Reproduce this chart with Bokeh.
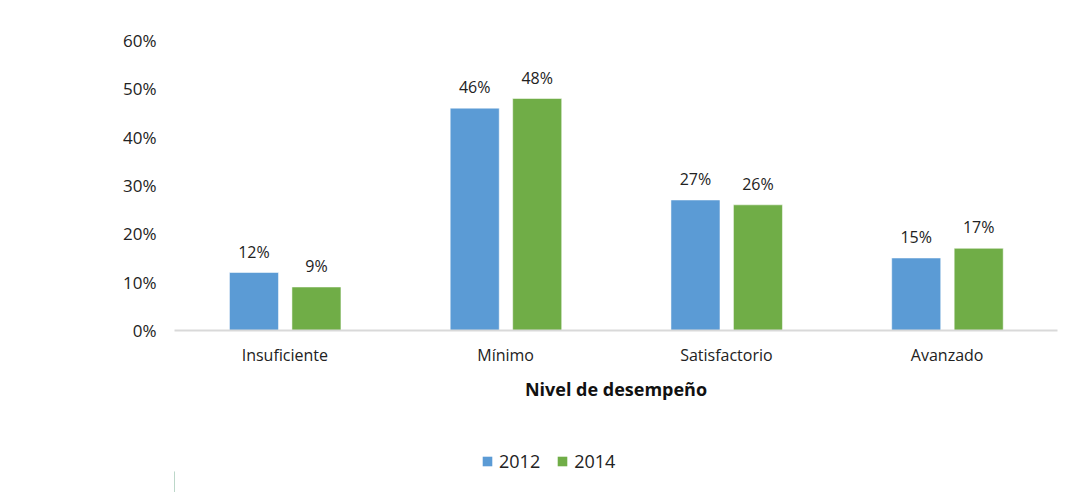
from bokeh.plotting import figure
from bokeh.layouts import column
from bokeh.models import (ColumnDataSource, FactorRange, Legend, LegendItem, NumeralTickFormatter,
                          FixedTicker, Range1d)
from bokeh.transform import dodge
from bokeh.core.properties import value
from bokeh.embed import file_html
from bokeh.resources import INLINE

categories = ["Insuficiente", "Mínimo", "Satisfactorio", "Avanzado"]
series_names = ["2012", "2014"]
values_2012 = [0.12, 0.46, 0.27, 0.15]
values_2014 = [0.09, 0.48, 0.26, 0.17]
y_ticks = [0.0, 0.1, 0.2, 0.3, 0.4, 0.5, 0.6]
x_title = "Nivel de desempeño"

BLUE = "#5b9bd5"
GREEN = "#70ad47"
FONT = "Open Sans"

src = ColumnDataSource(dict(
    cat=categories,
    v12=values_2012,
    v14=values_2014,
    l12=[f"{round(v*100)}%" for v in values_2012],
    l14=[f"{round(v*100)}%" for v in values_2014],
))

p = figure(
    x_range=FactorRange(*categories, range_padding=0.0),
    y_range=(0, 0.6),
    width=1069, height=450,
    output_backend="svg", toolbar_location=None,
    min_border_left=174, min_border_right=12, min_border_top=40, min_border_bottom=120,
)

p.vbar(x=dodge("cat", -0.14, range=p.x_range), top="v12", width=0.222, source=src,
       fill_color=BLUE, line_color="white", line_width=0.5)
p.vbar(x=dodge("cat", 0.143, range=p.x_range), top="v14", width=0.222, source=src,
       fill_color=GREEN, line_color="white", line_width=0.5)

p.text(x=dodge("cat", -0.14, range=p.x_range), y="v12", text="l12", source=src,
       text_align="center", text_baseline="bottom", y_offset=-10,
       text_font=value(FONT), text_font_size="16px", text_color="#222222")
p.text(x=dodge("cat", 0.143, range=p.x_range), y="v14", text="l14", source=src,
       text_align="center", text_baseline="bottom", y_offset=-10,
       text_font=value(FONT), text_font_size="16px", text_color="#222222")

p.xgrid.visible = False
p.ygrid.visible = False
p.outline_line_color = None

p.yaxis.ticker = FixedTicker(ticks=y_ticks)
p.yaxis.formatter = NumeralTickFormatter(format="0%")
p.yaxis.axis_line_color = None
p.yaxis.major_tick_line_color = None
p.yaxis.minor_tick_line_color = None
p.yaxis.major_label_standoff = 12
p.yaxis.major_label_text_font = FONT
p.yaxis.major_label_text_font_size = "17px"
p.yaxis.major_label_text_color = "#222222"

xa = p.xaxis[0]
xa.axis_line_color = "#d9d9d9"
xa.axis_line_width = 2
xa.major_tick_line_color = None
xa.minor_tick_line_color = None
xa.major_label_standoff = 7
xa.major_label_text_font = FONT
xa.major_label_text_font_size = "16px"
xa.major_label_text_color = "#222222"
xa.axis_label = x_title
xa.axis_label_text_font = FONT
xa.axis_label_text_font_size = "18px"
xa.axis_label_text_font_style = "bold"
xa.axis_label_text_color = "#111111"
xa.axis_label_standoff = 8

# legend strip under the chart
lg = figure(width=1069, height=42, output_backend="svg", toolbar_location=None,
            x_range=Range1d(0, 1), y_range=Range1d(0, 1),
            min_border=0, min_border_left=0, min_border_right=0, min_border_top=0, min_border_bottom=0)
lg.axis.visible = False
lg.grid.visible = False
lg.outline_line_color = None
k1 = lg.vbar(x=[-10], top=[0.5], width=0.1, fill_color=BLUE, line_color=None)
k2 = lg.vbar(x=[-10], top=[0.5], width=0.1, fill_color=GREEN, line_color=None)

legend = Legend(
    items=[LegendItem(label=series_names[0], renderers=[k1]),
           LegendItem(label=series_names[1], renderers=[k2])],
    orientation="horizontal", location=(307, 19),
    label_text_font=FONT, label_text_font_size="18px", label_text_color="#222222",
    glyph_width=12, glyph_height=12, label_standoff=6, spacing=16,
    padding=0, margin=0, border_line_color=None, background_fill_alpha=0,
    label_height=20,
)
lg.add_layout(legend, "center")

layout = column(p, lg, spacing=0)
open("out.html", "w").write(file_html(layout, INLINE))
